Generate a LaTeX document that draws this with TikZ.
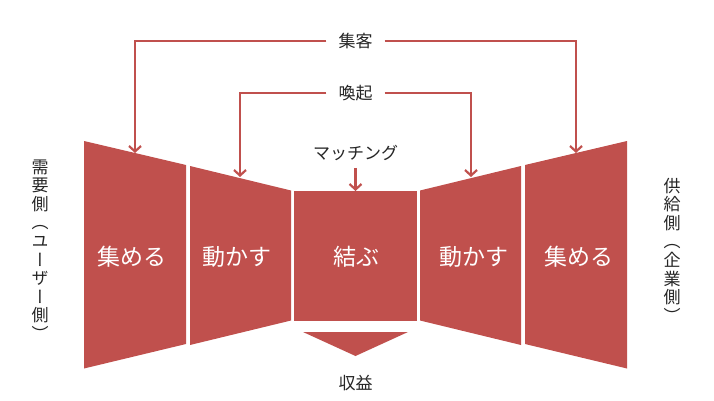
\documentclass[tikz,border=0pt]{standalone}
\usepackage{fontspec}
\newfontfamily\jp{Noto Sans CJK JP}
\newfontfamily\jpv{Noto Sans CJK JP}[RawFeature=+vert]
\usetikzlibrary{arrows.meta}
\definecolor{rd}{HTML}{C0504D}
\definecolor{tx}{HTML}{262626}
\begin{document}
\begin{tikzpicture}[x=1pt,y=-1pt,
  panel/.style={fill=rd},
  ptext/.style={text=white,font=\jp\fontsize{23}{26}\selectfont,inner sep=0pt},
  lbl/.style={text=tx,font=\jp\fontsize{17}{20}\selectfont,inner xsep=12pt,inner ysep=2pt},
  vtext/.style={text=tx,font=\jpv\fontsize{17}{18.6}\selectfont,align=center,inner sep=0pt},
  arr/.style={draw=rd,line width=2.2pt,-{Straight Barb[length=5.5pt,width=12pt,line width=2.2pt]}}]
\useasboundingbox (0,0) rectangle (714,401);
% panels
\fill[panel] (84,141) -- (186,165) -- (186,344) -- (84,368.5) -- cycle;
\fill[panel] (190,166) -- (291,190.5) -- (291,320.5) -- (190,345) -- cycle;
\fill[panel] (294,191) rectangle (417,321);
\fill[panel] (420,190.5) -- (521,166) -- (521,345) -- (420,320.5) -- cycle;
\fill[panel] (525,165) -- (627,141) -- (627,368.5) -- (525,344) -- cycle;
\fill[panel] (303,332) -- (408,332) -- (355.5,356) -- cycle;
% panel texts
\node[ptext] (a1) at (132,257) {集める};
\node[ptext] (a2) at (237,257) {動かす};
\node[ptext] (a3) at (356,257) {結ぶ};
\node[ptext] (a4) at (474,257) {動かす};
\node[ptext] (a5) at (579,257) {集める};
% labels
\node[lbl] (jk) at (355.5,41) {集客};
\node[lbl] (kk) at (355.5,93) {喚起};
\node[lbl,inner xsep=0pt] (mt) at (355.5,153) {マッチング};
\node[lbl,inner xsep=0pt] (sy) at (355.5,383) {収益};
% arrow targets
\coordinate (t1) at (135,153);
\coordinate (t2) at (240,177);
\coordinate (t3) at (355.5,191);
\coordinate (t4) at (471,177);
\coordinate (t5) at (576,153);
\draw[arr] (jk.west) -| (t1);
\draw[arr] (jk.east) -| (t5);
\draw[arr] (kk.west) -| (t2);
\draw[arr] (kk.east) -| (t4);
\draw[arr] ([yshift=-5pt]mt.south) -- (t3);
% side texts
\node[vtext] (dl) at (40,250) {需\\要\\側\\（\\ユ\\ー\\ザ\\ー\\側\\）};
\node[vtext] (dr) at (672,250) {供\\給\\側\\（\\企\\業\\側\\）};
\end{tikzpicture}
\end{document}
